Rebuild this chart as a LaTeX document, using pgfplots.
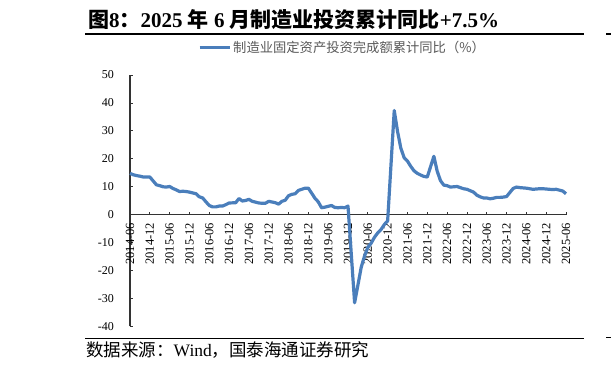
\documentclass[border=0pt]{standalone}
\usepackage{fontspec}
\setmainfont{Liberation Serif}
\newfontfamily\cjk{Noto Sans CJK SC}
\usepackage{pgfplots}
\pgfplotsset{compat=1.18}
\definecolor{lineblue}{HTML}{4A7EBB}
\definecolor{leggray}{HTML}{595959}
\pgfplotstableread{
m v
0 14.8
1 14.3
2 14.0
3 13.8
4 13.5
5 13.5
6 13.5
8 10.7
9 10.4
10 10.0
11 9.9
12 10.1
13 9.4
14 8.9
15 8.3
16 8.4
17 8.3
18 8.1
20 7.5
21 6.4
22 6.0
23 4.6
24 3.3
25 2.8
26 2.8
27 3.1
28 3.1
29 3.6
30 4.2
32 4.3
33 5.8
34 4.9
35 5.1
36 5.5
37 4.8
38 4.5
39 4.2
40 4.1
41 4.1
42 4.8
44 4.3
45 3.8
46 4.8
47 5.2
48 6.8
49 7.3
50 7.5
51 8.7
52 9.1
53 9.5
54 9.5
56 5.9
57 4.6
58 2.5
59 2.7
60 3.0
61 3.3
62 2.6
63 2.5
64 2.6
65 2.5
66 3.1
68 -31.5
69 -25.2
70 -18.8
71 -14.8
72 -11.7
73 -10.2
74 -8.1
75 -6.5
76 -5.3
77 -3.5
78 -2.2
80 37.3
81 29.8
82 23.8
83 20.4
84 19.2
85 17.3
86 15.7
87 14.8
88 14.2
89 13.7
90 13.5
92 20.9
93 15.6
94 12.2
95 10.6
96 10.4
97 9.9
98 10.0
99 10.1
100 9.7
101 9.3
102 9.1
104 8.1
105 7.0
106 6.4
107 6.0
108 6.0
109 5.7
110 5.9
111 6.2
112 6.2
113 6.3
114 6.5
116 9.4
117 9.9
118 9.7
119 9.6
120 9.5
121 9.3
122 9.1
123 9.2
124 9.3
125 9.3
126 9.2
128 9.0
129 9.1
130 8.8
131 8.5
132 7.5
}\datatable
\begin{document}
\begin{tikzpicture}[x=1pt,y=1pt]
\useasboundingbox (0pt,0pt) rectangle (611pt,372pt);
\clip (0pt,0pt) rectangle (611pt,372pt);
\node[anchor=base west, inner sep=0pt, font=\fontsize{21}{24}\selectfont\bfseries] at (88pt,344pt) {{\cjk\bfseries 图}8{\cjk\bfseries ：}2025 {\cjk\bfseries 年} 6 {\cjk\bfseries 月制造业投资累计同比}{\bfseries +7.5\%}};
\draw[line width=1.2pt] (85pt,338pt) -- (584pt,338pt);
\draw[line width=1.2pt] (606pt,338pt) -- (611pt,338pt);
\draw[line width=1pt] (85pt,33pt) -- (584pt,33pt);
\draw[line width=1pt] (606pt,34pt) -- (611pt,34pt);
\node[anchor=base west, inner sep=0pt, font=\fontsize{17.5}{20}\selectfont] at (86pt,15pt) {{\cjk 数据来源：}Wind{\cjk ，国泰海通证券研究}};
\begin{axis}[
  at={(130pt,45.5pt)}, anchor=south west, scale only axis,
  width=436pt, height=251.5pt,
  xmin=0, xmax=132, ymin=-40, ymax=50,
  clip=false,
  axis x line=middle, axis y line=left,
  hide obscured x ticks=false, hide obscured y ticks=false,
  axis line style={-, line width=1.2pt, color=black!80},
  xtick={0,6,...,132},
  xticklabels={2014-06,2014-12,2015-06,2015-12,2016-06,2016-12,2017-06,2017-12,2018-06,2018-12,2019-06,2019-12,2020-06,2020-12,2021-06,2021-12,2022-06,2022-12,2023-06,2023-12,2024-06,2024-12,2025-06},
  ytick={-40,-30,...,50},
  tick align=inside, major tick length=3pt,
  tick style={line width=0.8pt, color=black!80},
  xticklabel style={yshift=-8pt, rotate=90, anchor=east, inner sep=0pt, font=\fontsize{12.5}{14}\selectfont},
  yticklabel style={anchor=east, inner sep=0pt, xshift=-16pt, font=\fontsize{12}{14}\selectfont},
  /pgf/number format/assume math mode=true,
  legend style={at={(0.156,1.1093)}, anchor=west, draw=none, fill=none, inner sep=0pt,
    font=\cjk\fontsize{13.3}{15}\selectfont\color{leggray}},
  legend image code/.code={\draw[#1, line width=3pt] (0pt,0pt) -- (30pt,0pt);},
]
\addplot[lineblue, line width=3.2pt, line join=round, no marks] table[x=m, y=v] {\datatable};
\addlegendentry{制造业固定资产投资完成额累计同比（\%）}
\end{axis}
\end{tikzpicture}
\end{document}
